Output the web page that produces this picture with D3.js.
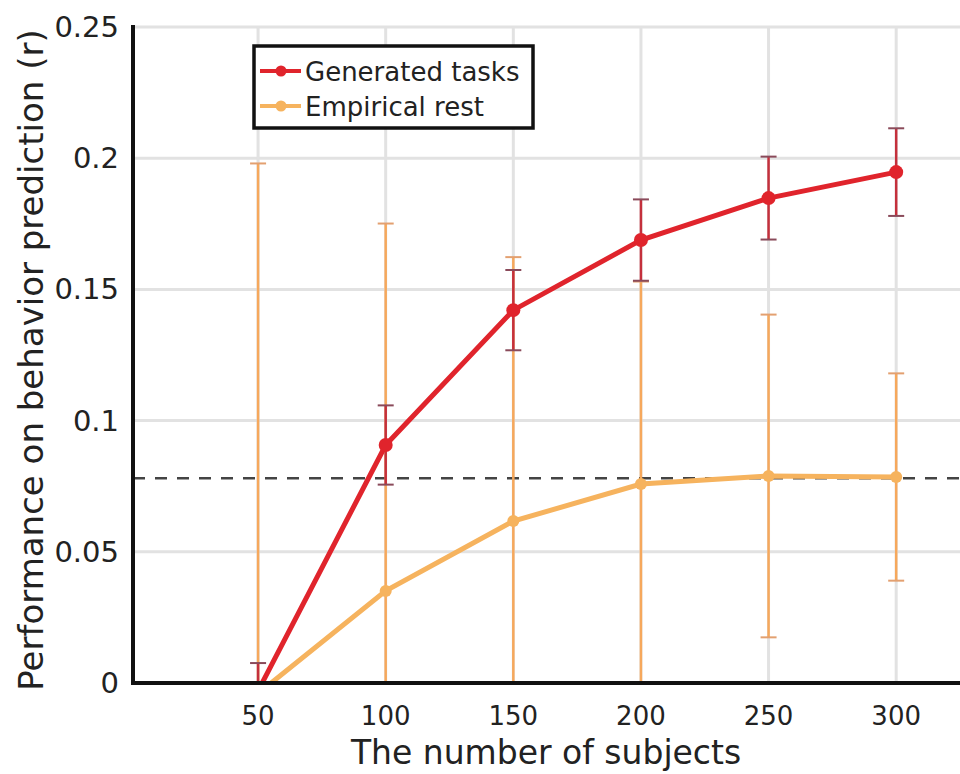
<!DOCTYPE html>
<html>
<head>
<meta charset="utf-8">
<script src="https://cdn.jsdelivr.net/npm/d3@7"></script>
<style>
  body { margin: 0; background: #fff; }
  text { font-family: "DejaVu Sans", sans-serif; fill: #222; }
</style>
</head>
<body>
<div id="chart"></div>
<script>
"use strict";

// data
var subjects = [50, 100, 150, 200, 250, 300];
var genMean = [-0.003, 0.0907, 0.1421, 0.1688, 0.1848, 0.1947];
var genErr  = [0.0106, 0.0151, 0.0153, 0.0155, 0.0158, 0.0167];
var restMean = [-0.004, 0.0351, 0.0617, 0.0758, 0.0789, 0.0785];
var restErr  = [0.202, 0.140, 0.1006, 0.0772, 0.0615, 0.0395];
var baseline = 0.078;
var xTicks = [50, 100, 150, 200, 250, 300];
var yTicks = [0, 0.05, 0.1, 0.15, 0.2, 0.25];

var W = 960, H = 774;
var plotL = 133, plotR = 960, plotT = 27, plotB = 683;

var x = d3.scaleLinear().domain([1, 325]).range([plotL, plotR]);
var y = d3.scaleLinear().domain([0, 0.25]).range([plotB, plotT]);

var svg = d3.select("#chart").append("svg")
  .attr("width", W).attr("height", H);

svg.append("defs").append("clipPath").attr("id", "plot")
  .append("rect")
    .attr("x", plotL).attr("y", plotT)
    .attr("width", plotR - plotL).attr("height", plotB - plotT);

// grid
var grid = svg.append("g");
grid.selectAll("line.h").data(yTicks).join("line")
  .attr("class", "h")
  .attr("x1", plotL).attr("x2", plotR)
  .attr("y1", d => y(d)).attr("y2", d => y(d))
  .attr("stroke", "#e2e2e2").attr("stroke-width", 3);
grid.selectAll("line.v").data(xTicks).join("line")
  .attr("class", "v")
  .attr("x1", d => x(d)).attr("x2", d => x(d))
  .attr("y1", plotT).attr("y2", plotB)
  .attr("stroke", "#e2e2e2").attr("stroke-width", 3);

var plot = svg.append("g").attr("clip-path", "url(#plot)");

// dashed reference line
plot.append("line")
  .attr("x1", plotL).attr("x2", plotR)
  .attr("y1", y(baseline)).attr("y2", y(baseline))
  .attr("stroke", "#444").attr("stroke-width", 2.5)
  .attr("stroke-dasharray", "12,10");

function drawSeries(means, errs, lineCol, barCol, capCol, r) {
  var pts = subjects.map((s, i) => ({ s: s, m: means[i], e: errs[i] }));
  var g = plot.append("g");
  g.selectAll("line.bar").data(pts).join("line")
    .attr("class", "bar")
    .attr("x1", d => x(d.s)).attr("x2", d => x(d.s))
    .attr("y1", d => y(d.m - d.e)).attr("y2", d => y(d.m + d.e))
    .attr("stroke", barCol).attr("stroke-width", 2.5);
  [1, -1].forEach(function(sign) {
    g.selectAll(null).data(pts).join("line")
      .attr("x1", d => x(d.s) - 8).attr("x2", d => x(d.s) + 8)
      .attr("y1", d => y(d.m + sign * d.e)).attr("y2", d => y(d.m + sign * d.e))
      .attr("stroke", capCol).attr("stroke-width", 2);
  });
  g.append("path").datum(pts)
    .attr("d", d3.line().x(d => x(d.s)).y(d => y(d.m)))
    .attr("fill", "none").attr("stroke", lineCol).attr("stroke-width", 5);
  g.selectAll("circle").data(pts).join("circle")
    .attr("cx", d => x(d.s)).attr("cy", d => y(d.m)).attr("r", r)
    .attr("fill", lineCol);
}

drawSeries(restMean, restErr, "#f6b35e", "#f6a85c", "#e3a070", 6);
drawSeries(genMean, genErr, "#e0242c", "#c4303c", "#8a4a5a", 7);

// spines
svg.append("line").attr("x1", plotL).attr("x2", plotL)
  .attr("y1", plotT - 2).attr("y2", plotB + 2)
  .attr("stroke", "#111").attr("stroke-width", 4);
svg.append("line").attr("x1", plotL - 2).attr("x2", plotR)
  .attr("y1", plotB).attr("y2", plotB)
  .attr("stroke", "#111").attr("stroke-width", 4);

// tick labels
svg.selectAll("text.yt").data(yTicks).join("text")
  .attr("class", "yt")
  .attr("x", plotL - 14).attr("y", d => y(d))
  .attr("text-anchor", "end").attr("dominant-baseline", "central")
  .style("font-size", "29px")
  .text(d => d === 0 ? "0" : String(d));
svg.selectAll("text.xt").data(xTicks).join("text")
  .attr("class", "xt")
  .attr("x", d => x(d)).attr("y", 725)
  .attr("text-anchor", "middle")
  .style("font-size", "26px")
  .text(d => d);

// axis labels
svg.append("text")
  .attr("x", 546).attr("y", 764)
  .attr("text-anchor", "middle")
  .style("font-size", "33px")
  .text("The number of subjects");
svg.append("text")
  .attr("transform", "translate(43,360) rotate(-90)")
  .attr("text-anchor", "middle")
  .style("font-size", "34px")
  .text("Performance on behavior prediction (r)");

// legend
var legend = svg.append("g");
legend.append("rect")
  .attr("x", 254).attr("y", 46).attr("width", 279).attr("height", 82)
  .attr("fill", "#fff").attr("stroke", "#111").attr("stroke-width", 3.5);
var legendItems = [
  { name: "Generated tasks", col: "#e0242c" },
  { name: "Empirical rest", col: "#f6b35e" }
];
legendItems.forEach(function(d, i) {
  var ly = 71 + i * 35;
  legend.append("line")
    .attr("x1", 260).attr("x2", 301).attr("y1", ly).attr("y2", ly)
    .attr("stroke", d.col).attr("stroke-width", 4);
  legend.append("circle").attr("cx", 281).attr("cy", ly).attr("r", 5.5)
    .attr("fill", d.col);
  legend.append("text")
    .attr("x", 305).attr("y", ly + 1)
    .attr("dominant-baseline", "central")
    .style("font-size", "26px")
    .text(d.name);
});
</script>
</body>
</html>
